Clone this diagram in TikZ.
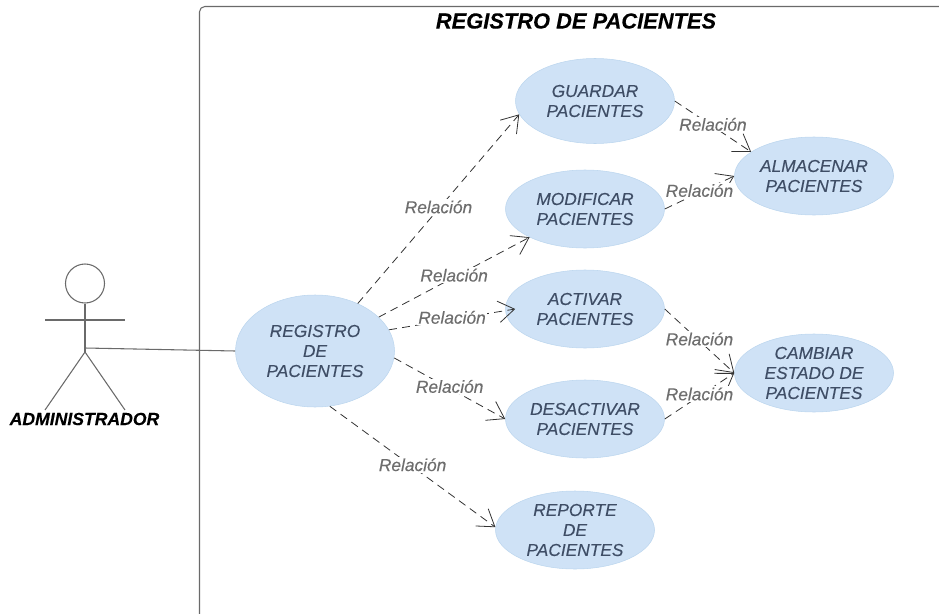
\documentclass[tikz,border=0pt]{standalone}
\usepackage{fontspec}
\setmainfont{Liberation Sans}
\newfontfamily\letrafont[FakeBold=0.2]{Liberation Sans}
\usetikzlibrary{shapes.geometric,arrows.meta}
\definecolor{usecasefill}{HTML}{CFE2F6}
\definecolor{usecaseline}{HTML}{BCD6EE}
\definecolor{usecasetext}{HTML}{3F4E66}
\definecolor{relaciontext}{HTML}{6E6E6E}
\definecolor{frameline}{HTML}{6A6A6A}
\tikzset{
    usecase/.style = {ellipse, draw = usecaseline, fill = usecasefill, minimum width = 159*0.75pt, minimum height = 78*0.75pt, inner sep = 0pt, align = center, text = usecasetext, font = \letrafont\fontsize{13}{15}\selectfont\itshape},
    relacion/.style = {dash pattern = on 6pt off 4pt, black!80, line width = 0.6pt, -{Straight Barb[length = 12pt, width = 16pt]}},
    etiqueta/.style = {fill = white, inner sep = 1pt, text = relaciontext, yshift = 1.5pt, font = \letrafont\fontsize{13}{15}\selectfont\itshape},
    linea/.style = {draw = frameline, line width = 0.8pt}
}
\begin{document}
\begin{tikzpicture}[x = 0.75pt, y = -0.75pt]
    \useasboundingbox (0,0) rectangle (939,614);
    % sistema
    \coordinate (m1) at (939,6.5);
    \coordinate (m2) at (199.5,614);
    \draw[linea, rounded corners = 4pt] (m1) -- (199.5,6.5) -- (m2);
    \node (titulo) at (576,21) {\letrafont\fontsize{16.4}{18}\selectfont\bfseries\itshape REGISTRO DE PACIENTES};
    % actor
    \node[circle, linea, minimum size = 39*0.75pt, inner sep = 0pt] (cabeza) at (85,283.5) {};
    \coordinate (centro) at (85,348);
    \coordinate (cadera) at (85,352);
    \coordinate (brazo1) at (45,320);
    \coordinate (brazo2) at (125,320);
    \coordinate (pie1) at (45,410);
    \coordinate (pie2) at (125,410);
    \draw[linea] (cabeza) -- (cadera);
    \draw[linea] (brazo1) -- (brazo2);
    \draw[linea] (pie1) -- (cadera) -- (pie2);
    \node (admin) at (84.5,419) {\letrafont\fontsize{13.2}{15}\selectfont\bfseries\itshape ADMINISTRADOR};
    % casos de uso
    \node[usecase, minimum height = 112*0.75pt] (registro) at (315,351) {REGISTRO\\DE\\PACIENTES};
    \node[usecase, minimum height = 85*0.75pt] (guardar) at (595,101) {GUARDAR\\PACIENTES};
    \node[usecase] (modificar) at (585,209) {MODIFICAR\\PACIENTES};
    \node[usecase] (almacenar) at (814,176) {ALMACENAR\\PACIENTES};
    \node[usecase] (activar) at (585,309) {ACTIVAR\\PACIENTES};
    \node[usecase] (desactivar) at (585,419) {DESACTIVAR\\PACIENTES};
    \node[usecase] (cambiar) at (814,373) {CAMBIAR\\ESTADO DE\\PACIENTES};
    \node[usecase] (reporte) at (575,530) {REPORTE\\DE\\PACIENTES};
    % relaciones
    \draw[linea] (centro) -- (registro.180);
    \draw[relacion] (registro.48) -- (guardar.190) node[etiqueta, midway] (r1) {Relación};
    \draw[relacion] (registro.28) -- (modificar.207) node[etiqueta, midway] (r2) {Relación};
    \draw[relacion] (registro.16) -- ([xshift = 7.5pt]activar.180) node[etiqueta, pos = 0.5] (r3) {Relación};
    \draw[relacion] (registro.-5) -- (desactivar.180) node[etiqueta, pos = 0.5] (r4) {Relación};
    \draw[relacion] (registro.-75) -- (reporte.178) node[etiqueta, pos = 0.5] (r5) {Relación};
    \draw[relacion] (guardar.0) -- (almacenar.159) node[etiqueta, midway] (r6) {Relación};
    \draw[relacion] (modificar.0) -- (almacenar.180) node[etiqueta, midway] (r7) {Relación};
    \draw[relacion] (activar.0) -- (cambiar.180) node[etiqueta, midway] (r8) {Relación};
    \draw[relacion] (desactivar.0) -- (cambiar.180) node[etiqueta, midway] (r9) {Relación};
\end{tikzpicture}
\end{document}
